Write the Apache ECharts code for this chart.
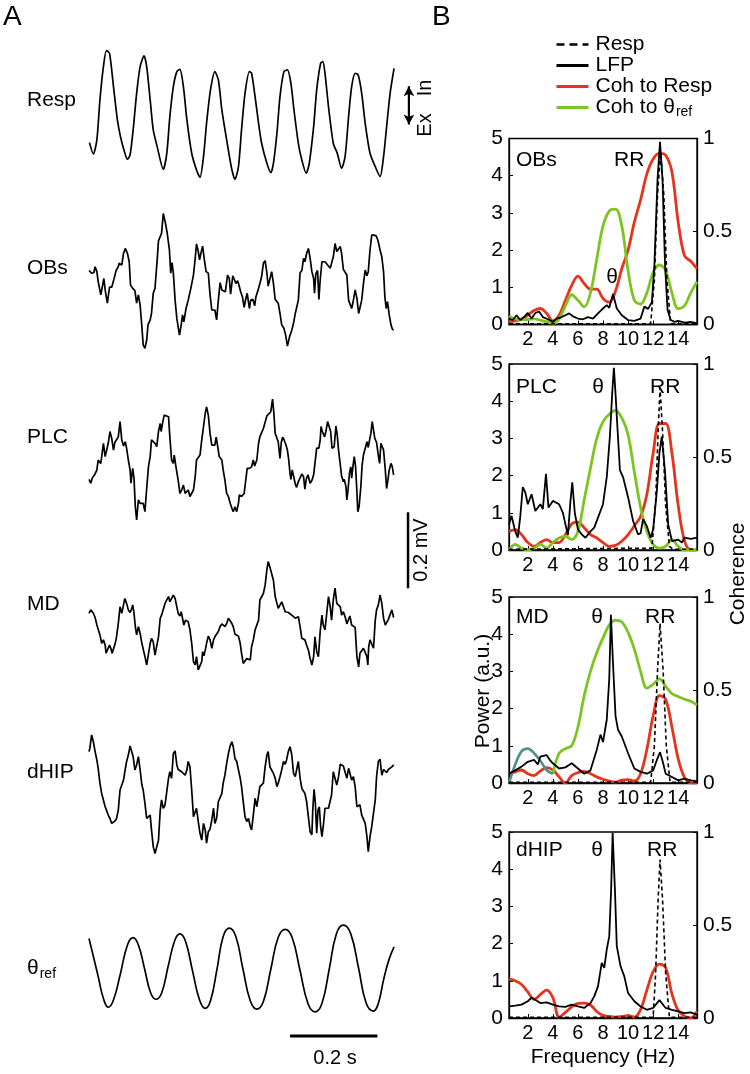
<!DOCTYPE html>
<html><head><meta charset="utf-8">
<script src="https://cdn.jsdelivr.net/npm/echarts@6/dist/echarts.min.js"></script>
<style>html,body{margin:0;padding:0;background:#fff}#c{width:750px;height:1074px}</style>
</head><body><div id="c"></div>
<script>
// ---------- Panel A: traces, [time ms, value] (Resp in a.u., LFP in µV) ----------
const respTrace = [[1,-0.83],[10,-1.17],[18,-0.75],[25,0.45],[33,1.45],[40,1.93],[47,1.85],[56,0.85],[65,-0.15],[72,-0.65],[80,-1.05],[88,-1.33],[94,-1.2],[101,-0.45],[109,0.65],[117,1.45],[126,1.77],[132,1.45],[140,0.45],[147,-0.45],[156,-0.95],[170,-1.63],[178,-1.15],[185,-0.05],[193,0.85],[201,1.3],[208,1.37],[216,0.85],[224,-0.15],[235,-1.15],[246,-1.65],[254,-1.87],[262,-1.25],[269,-0.25],[278,0.75],[288,1.3],[296,1.05],[304,0.15],[315,-0.75],[327,-1.65],[334,-1.93],[342,-1.55],[349,-0.45],[357,0.65],[367,1.3],[372,1.25],[380,0.55],[388,-0.25],[395,-0.85],[407,-1.45],[416,-1.73],[422,-1.45],[430,-0.55],[437,0.55],[446,1.3],[454,1.35],[462,0.95],[469,0.15],[479,-0.85],[487,-1.35],[497,-1.75],[504,-1.45],[514,-0.35],[521,0.75],[530,1.55],[535,1.6],[540,1.25],[548,0.25],[559,-0.85],[568,-1.15],[578,-1.6],[586,-1.25],[594,-0.05],[601,0.85],[609,1.25],[616,1.2],[624,0.65],[632,-0.25],[643,-1.15],[655,-1.55],[666,-1.85],[674,-1.25],[681,-0.35],[689,0.65],[698,1.4]];

const obsTrace = [[0,25],[6,18],[11,19],[14,35],[18,22],[21,-4],[27,-39],[31,-44],[34,4],[37,-26],[42,-61],[47,-19],[52,-19],[57,2],[62,25],[67,35],[69,44],[75,39],[79,70],[83,83],[88,70],[92,48],[95,-13],[100,-22],[105,-28],[109,-61],[113,-39],[117,-66],[121,-123],[124,-171],[128,-180],[132,-158],[135,-118],[140,-105],[143,-88],[147,-35],[151,-22],[156,53],[159,103],[163,107],[166,123],[170,175],[175,149],[179,123],[184,79],[187,18],[190,46],[193,18],[197,-53],[201,-101],[204,-101],[207,-145],[211,-118],[214,-92],[217,-110],[222,-75],[227,-53],[233,-22],[239,13],[243,57],[246,95],[250,75],[253,53],[256,70],[260,89],[264,53],[268,22],[273,18],[277,-39],[281,-79],[285,-75],[288,-79],[292,-105],[296,-53],[300,-7],[304,-26],[307,-28],[312,-31],[317,13],[321,4],[324,-37],[329,11],[333,0],[336,-9],[340,-2],[343,-13],[347,-31],[351,-44],[355,-72],[359,-48],[362,-35],[367,-75],[370,-53],[375,-51],[379,-68],[382,-44],[387,-26],[391,-9],[395,9],[399,44],[403,51],[407,19],[410,-16],[414,-19],[418,22],[422,-9],[426,-51],[430,-51],[433,-61],[437,-88],[441,-118],[446,-127],[450,-145],[454,-174],[459,-149],[464,-132],[468,-114],[472,-88],[475,-92],[479,-53],[483,19],[487,25],[491,57],[494,48],[498,70],[502,83],[506,57],[510,22],[514,4],[516,-35],[519,16],[523,25],[526,-51],[529,0],[533,48],[536,44],[540,48],[544,44],[548,37],[552,31],[555,26],[559,61],[563,96],[567,75],[571,79],[575,88],[578,70],[582,28],[586,26],[590,13],[594,-53],[597,-48],[601,-75],[605,-53],[609,-26],[613,-48],[617,-88],[620,-88],[624,-53],[628,-9],[632,26],[636,11],[639,22],[643,79],[647,118],[652,118],[657,116],[661,105],[666,79],[670,61],[674,22],[677,-44],[680,-75],[683,-57],[687,-92],[691,-118],[694,-129],[697,-132]];

const plcTrace = [[0,-51],[4,-61],[8,-46],[13,-39],[18,-26],[21,0],[27,-9],[30,-4],[33,44],[37,9],[40,4],[44,44],[48,75],[52,57],[56,26],[59,46],[63,44],[67,61],[71,101],[75,53],[79,37],[83,48],[86,31],[90,0],[94,-26],[96,-61],[100,-22],[103,-48],[106,-123],[109,-158],[113,-105],[117,-114],[121,-118],[124,-114],[128,-136],[132,-75],[136,-18],[140,9],[143,53],[147,53],[151,44],[155,35],[159,75],[163,96],[165,75],[169,101],[172,118],[176,114],[182,114],[185,61],[189,0],[193,-9],[195,13],[199,-18],[202,-39],[205,-61],[208,-88],[212,-79],[216,-66],[220,-88],[224,-83],[227,-79],[231,-96],[235,-98],[239,-79],[243,-44],[246,0],[250,4],[254,13],[258,53],[262,88],[266,123],[269,140],[273,118],[277,70],[281,39],[285,35],[288,39],[291,60],[294,39],[298,9],[304,0],[307,-26],[311,-53],[315,-88],[319,-96],[323,-114],[327,-127],[330,-136],[334,-123],[338,-136],[342,-114],[344,-92],[349,-96],[355,-88],[359,-88],[362,-22],[367,-22],[372,-18],[376,0],[379,-16],[384,0],[388,44],[391,61],[395,66],[399,83],[403,88],[407,116],[410,114],[416,127],[420,160],[423,123],[426,70],[430,68],[433,48],[437,4],[440,46],[443,60],[446,54],[451,39],[454,26],[457,0],[460,-35],[462,-51],[465,-26],[469,-25],[472,-63],[475,-72],[479,-57],[483,-54],[487,-37],[491,-44],[494,-77],[497,-51],[501,-39],[506,-61],[510,-54],[514,-39],[517,-35],[521,31],[526,31],[529,53],[531,88],[534,75],[539,61],[542,75],[546,101],[550,96],[553,75],[556,31],[561,35],[565,89],[568,66],[571,26],[575,-13],[578,-42],[582,-57],[584,-51],[588,-70],[590,-105],[593,-75],[596,-35],[599,-18],[601,-48],[604,-16],[607,9],[610,-18],[613,-83],[615,-136],[618,-123],[622,-70],[625,-13],[628,13],[632,18],[636,48],[639,33],[642,53],[645,70],[648,101],[651,79],[654,57],[658,46],[662,13],[665,-9],[668,44],[671,49],[674,26],[678,-26],[681,-75],[684,-53],[687,-26],[691,-9],[694,-18],[697,-39]];

const mdTrace = [[0,9],[4,18],[7,22],[10,9],[14,-2],[18,-22],[21,-26],[25,-48],[29,-70],[33,-61],[37,-75],[39,-96],[43,-96],[47,-75],[50,-83],[53,-96],[56,-98],[60,-70],[63,-53],[67,-18],[71,26],[75,9],[79,31],[82,48],[86,35],[90,18],[94,11],[98,22],[100,31],[103,9],[106,-26],[109,-48],[113,-26],[117,-44],[121,-70],[124,-75],[128,-105],[132,-127],[136,-123],[140,-70],[143,-57],[147,-66],[151,-101],[155,-96],[159,-53],[163,-4],[166,4],[170,9],[174,35],[178,44],[182,53],[185,39],[189,44],[193,57],[197,48],[201,26],[204,9],[208,2],[211,13],[214,-4],[217,-22],[221,-9],[224,-7],[227,-13],[231,-35],[235,-70],[239,-118],[243,-127],[246,-105],[250,-140],[254,-145],[258,-118],[260,-92],[263,-103],[266,-88],[269,-70],[273,-51],[277,-61],[281,-83],[285,-61],[288,-53],[292,-51],[296,-39],[300,-26],[304,-19],[307,-18],[311,-26],[315,-18],[319,-4],[323,-9],[327,-18],[330,-26],[334,-46],[338,-48],[342,-51],[346,-70],[349,-96],[353,-123],[357,-127],[361,-110],[365,-105],[369,-114],[372,-79],[376,-61],[380,-35],[384,-35],[388,-9],[391,44],[395,48],[399,61],[403,83],[407,123],[410,145],[414,130],[418,133],[422,96],[426,53],[430,35],[433,22],[437,18],[441,39],[445,26],[449,13],[452,18],[456,11],[460,13],[464,4],[468,7],[472,-4],[475,-9],[479,0],[483,-26],[487,-57],[491,-61],[494,-61],[498,-75],[502,-88],[506,-110],[510,-127],[514,-105],[517,-53],[521,-92],[525,-105],[529,-39],[533,4],[536,-22],[540,-35],[544,9],[548,53],[552,26],[555,-9],[559,44],[563,75],[567,35],[571,35],[575,26],[578,4],[582,13],[586,0],[590,-19],[594,-16],[597,2],[601,-22],[605,-26],[609,-28],[613,-105],[617,-132],[620,-96],[624,-92],[628,-83],[632,-81],[636,-105],[638,-127],[640,-79],[643,-61],[647,-57],[651,-83],[655,-9],[658,18],[662,31],[666,57],[670,35],[674,-4],[678,-22],[681,-18],[685,-7],[689,-4],[693,18],[697,-2]];

const dhipTrace = [[0,101],[2,110],[6,145],[10,127],[14,101],[18,79],[21,57],[25,18],[29,-9],[33,-13],[37,-44],[40,-53],[44,-66],[48,-75],[52,-88],[56,-88],[60,-81],[63,-75],[67,-53],[71,0],[75,13],[79,26],[82,48],[86,75],[90,92],[94,116],[98,114],[101,88],[105,53],[109,66],[113,88],[117,53],[121,13],[124,0],[128,-35],[132,-75],[136,-79],[140,-66],[143,-105],[147,-149],[151,-167],[155,-165],[159,-132],[163,-53],[166,-26],[170,-48],[174,-39],[178,-35],[182,31],[185,48],[189,31],[193,96],[197,103],[201,66],[204,54],[208,53],[212,48],[216,44],[220,39],[224,53],[227,75],[231,61],[235,0],[239,-70],[243,-75],[246,-48],[250,-83],[254,-114],[258,-132],[262,-88],[266,-105],[269,-140],[273,-110],[277,-103],[281,-79],[285,-48],[288,-88],[292,-75],[296,-31],[300,-26],[304,-9],[307,18],[311,39],[315,70],[319,96],[323,116],[327,127],[330,114],[334,83],[338,75],[342,53],[346,31],[349,9],[353,-31],[357,-70],[361,-83],[365,-75],[369,-96],[372,-105],[376,-66],[380,-22],[384,-44],[388,-48],[391,9],[395,13],[399,18],[403,61],[407,92],[410,101],[414,61],[418,60],[422,44],[426,31],[430,9],[433,18],[437,35],[441,53],[445,75],[449,68],[452,79],[456,101],[460,114],[464,92],[468,44],[472,35],[475,53],[479,75],[483,31],[487,4],[491,0],[494,-9],[498,-31],[502,-35],[506,-110],[510,-118],[512,-53],[515,2],[518,-35],[521,-114],[524,-53],[527,-44],[530,-96],[533,-123],[536,-96],[540,-48],[544,-48],[548,-48],[552,-44],[555,-13],[559,48],[563,44],[567,13],[571,35],[575,68],[578,66],[582,63],[586,61],[590,31],[594,57],[597,44],[601,26],[605,35],[609,9],[613,-44],[617,-48],[620,-39],[624,-66],[628,-68],[632,-88],[636,-123],[639,-162],[643,-123],[647,-96],[651,-95],[655,-26],[658,35],[662,75],[666,81],[670,39],[674,54],[678,53],[681,46],[685,54],[689,57],[693,61],[697,66]];

const thetaTrace = [[0,83],[11,31],[22,-22],[33,-75],[44,-98],[56,-79],[72,-9],[88,66],[101,85],[113,66],[127,4],[141,-60],[153,-77],[166,-61],[181,9],[196,77],[208,95],[221,75],[237,-3],[253,-79],[266,-101],[278,-81],[293,3],[307,88],[321,110],[336,88],[352,4],[369,-81],[384,-103],[399,-83],[416,2],[433,86],[449,107],[465,85],[483,-2],[501,-88],[517,-110],[533,-88],[550,4],[566,95],[582,118],[599,95],[617,4],[634,-86],[651,-108],[662,-88],[674,-26],[686,26],[698,61]];

// scale bars: 0.2 mV (µV range) at 730 ms, 0.2 s (ms range)
const mvBar = [[730,75],[730,275]];
const sBar = [[460,-174],[660,-174]];
const respArrow = [[732,0.86],[732,-0.29]];

// ---------- Panel B: spectra ----------
const freqs = [0.5,1,1.5,2,2.5,3,3.5,4,4.5,5,5.5,6,6.5,7,7.5,8,8.5,9,9.5,10,10.5,11,11.5,12,12.5,13,13.5,14,14.5,15,15.5];
const freqTicks = [2,4,6,8,10,12,14];

const obsCohResp  = [0.015,0.02,0.03,0.05,0.075,0.086,0.06,0.02,0.05,0.13,0.21,0.26,0.22,0.19,0.19,0.14,0.12,0.18,0.3,0.4,0.55,0.67,0.81,0.89,0.92,0.91,0.82,0.55,0.37,0.34,0.3];
const obsCohTheta = [0.045,0.03,0.027,0.027,0.03,0.023,0.015,0.005,0.03,0.1,0.16,0.13,0.095,0.17,0.35,0.53,0.61,0.62,0.53,0.29,0.13,0.11,0.17,0.28,0.32,0.29,0.17,0.085,0.1,0.17,0.23];
const plcCohResp  = [0.1,0.11,0.083,0.04,0.02,0.04,0.056,0.04,0.04,0.083,0.14,0.15,0.12,0.083,0.065,0.04,0.02,0.025,0.047,0.083,0.13,0.18,0.3,0.52,0.68,0.68,0.52,0.24,0.05,0.0,0.0];
const plcCohTheta = [0.0,0.03,0.01,0.0,0.01,0.03,0.01,0.04,0.065,0.074,0.056,0.1,0.27,0.44,0.6,0.69,0.73,0.75,0.71,0.62,0.42,0.23,0.1,0.03,0.01,0.02,0.056,0.02,0.0,0.0,0.0];
const mdCohResp   = [0.05,0.06,0.07,0.05,0.04,0.065,0.083,0.07,0.033,0.0,0.04,0.056,0.063,0.05,0.033,0.02,0.01,0.005,0.015,0.018,0.011,0.05,0.18,0.36,0.47,0.45,0.3,0.13,0.03,0.0,0.0];
const mdCohTheta  = [null,null,null,null,null,null,null,0.05,0.16,0.185,0.2,0.3,0.47,0.6,0.7,0.78,0.85,0.875,0.865,0.81,0.72,0.6,0.51,0.53,0.56,0.52,0.48,0.465,0.45,0.44,0.42];
const mdCohThetaLow = [0.0,0.1,0.17,0.185,0.16,0.12,0.07,0.05,null,null,null,null,null,null,null,null,null,null,null,null,null,null,null,null,null,null,null,null,null,null,null];
const dhipCohResp = [0.21,0.2,0.18,0.14,0.1,0.126,0.15,0.11,0.005,0.03,0.06,0.078,0.08,0.07,0.035,0.014,0.009,0.005,0.009,0.013,0.005,0.045,0.15,0.25,0.29,0.27,0.13,0.04,0.01,0.0,0.036];

// power spectra, [Hz, a.u.]
const obsLFP = [[0.5,0.16],[0.8,0.12],[1.1,0.25],[1.4,0.12],[1.7,0.2],[2.0,0.31],[2.3,0.16],[2.6,0.31],[2.9,0.35],[3.2,0.2],[3.6,0.14],[4.0,0.07],[4.3,0.16],[4.7,0.2],[5.0,0.25],[5.3,0.3],[5.6,0.22],[6.0,0.16],[6.4,0.14],[6.8,0.2],[7.2,0.16],[7.6,0.3],[8.0,0.43],[8.3,0.52],[8.5,0.45],[8.8,0.82],[9.1,0.43],[9.5,0.25],[10.0,0.12],[10.5,0.1],[11.0,0.16],[11.3,0.48],[11.6,0.42],[11.9,0.6],[12.1,1.6],[12.35,3.9],[12.55,4.91],[12.75,3.9],[12.95,1.6],[13.15,0.4],[13.4,0.12],[13.7,0.07],[14.0,0.1],[14.5,0.05],[15.0,0.07],[15.5,0.03]];
const obsResp = [[0.5,0.02],[11.8,0.02],[12.1,1.2],[12.35,3.5],[12.6,4.6],[12.85,3.5],[13.1,1.2],[13.4,0.02],[15.5,0.02]];
const plcLFP = [[0.5,0.69],[0.7,0.92],[1.0,0.5],[1.2,0.33],[1.4,0.9],[1.6,1.69],[1.8,1.55],[2.0,1.23],[2.3,1.5],[2.6,1.05],[3.0,1.23],[3.2,1.1],[3.45,2.05],[3.65,1.14],[4.0,1.32],[4.5,1.23],[4.8,1.0],[5.0,0.69],[5.2,0.4],[5.4,1.3],[5.55,1.82],[5.75,1.0],[6.0,0.55],[6.3,0.42],[6.6,0.33],[7.0,0.5],[7.3,0.6],[7.6,0.87],[8.0,1.23],[8.3,1.96],[8.55,3.05],[8.75,4.3],[8.87,4.9],[9.0,4.2],[9.15,3.3],[9.35,2.15],[9.6,1.96],[10.0,1.42],[10.4,0.78],[10.8,0.42],[11.0,0.45],[11.2,0.83],[11.5,0.64],[11.8,0.33],[12.0,0.55],[12.3,1.6],[12.5,2.6],[12.69,3.05],[12.95,2.1],[13.2,0.69],[13.5,0.24],[14.0,0.28],[14.3,0.2],[14.5,0.33],[15.0,0.3],[15.5,0.33]];
const plcResp = [[0.5,0.02],[11.9,0.05],[12.2,1.3],[12.4,3.2],[12.55,4.36],[12.75,3.2],[13.0,1.2],[13.3,0.1],[13.6,0.02],[15.5,0.02]];
const mdLFP = [[0.5,0.25],[1.0,0.34],[1.5,0.44],[2.0,0.57],[2.5,0.62],[2.8,0.5],[3.0,0.71],[3.5,0.75],[3.8,0.6],[4.0,0.53],[4.5,0.39],[5.0,0.42],[5.5,0.53],[6.0,0.39],[6.5,0.25],[7.0,0.34],[7.5,0.89],[7.8,1.3],[8.0,1.1],[8.3,1.7],[8.5,2.8],[8.63,4.52],[8.8,3.2],[9.0,1.8],[9.2,1.43],[9.5,1.25],[10.0,0.8],[10.5,0.39],[11.0,0.3],[11.5,0.25],[12.0,0.34],[12.3,0.62],[12.55,0.83],[12.8,0.53],[13.0,0.25],[13.5,0.16],[14.0,0.07],[14.5,0.12],[15.0,0.07],[15.5,0.05]];
const mdResp = [[0.5,0.02],[11.8,0.02],[12.1,1.0],[12.35,3.0],[12.55,4.29],[12.8,3.0],[13.05,1.0],[13.35,0.02],[15.5,0.02]];
const dhipLFP = [[0.5,0.31],[1.0,0.33],[1.5,0.36],[2.0,0.45],[2.3,0.55],[2.5,0.51],[3.0,0.4],[3.5,0.42],[4.0,0.36],[4.5,0.31],[5.0,0.3],[5.5,0.36],[6.0,0.31],[6.5,0.27],[7.0,0.4],[7.3,0.58],[7.6,0.85],[7.9,1.48],[8.1,1.35],[8.3,1.84],[8.5,2.2],[8.65,3.46],[8.77,4.98],[8.95,3.46],[9.1,1.93],[9.4,1.39],[9.7,1.12],[10.0,0.67],[10.5,0.45],[11.0,0.31],[11.5,0.22],[12.0,0.27],[12.5,0.48],[13.0,0.27],[13.5,0.22],[14.0,0.18],[14.5,0.13],[15.0,0.15],[15.5,0.09]];
const dhipResp = [[0.5,0.02],[12.0,0.02],[12.2,1.2],[12.4,3.2],[12.55,4.26],[12.75,3.2],[13.0,1.2],[13.3,0.02],[15.5,0.02]];

// ---------- styling / layout ----------
const FONT = '"Liberation Sans", Arial, Helvetica, sans-serif';
const RED = '#E5341C', GREEN = '#7CC520', TEAL = '#4F8E8A';
// [top, height, yMin, yMax] for panel A rows (x: 0–740 ms over 323.4 px)
const aGrids = [[48.3,133.3,-2,2],[204,152,-200,200],[384,152,-200,200],[502.7,190,-200,300],[714,152,-200,200],[894,152,-200,200]];
const bTops = [138.5,364,597,832];

const grid = [], xAxis = [], yAxis = [], series = [];
aGrids.forEach((g,i)=>{
  grid.push({left:89, top:g[0], width:323.4, height:g[1]});
  xAxis.push({gridIndex:i, type:'value', min:0, max:740, show:false});
  yAxis.push({gridIndex:i, type:'value', min:g[2], max:g[3], show:false});
});
bTops.forEach((t,j)=>{
  const gi = 6+j;
  grid.push({left:509, top:t, width:188, height:186, show:true, borderColor:'#000', borderWidth:1.3, backgroundColor:'transparent'});
  xAxis.push({gridIndex:gi, type:'value', min:0.5, max:15.5,
    axisLine:{show:true, lineStyle:{color:'#000', width:1.3}},
    axisTick:{show:true, inside:true, length:4, customValues:freqTicks, lineStyle:{color:'#000'}},
    axisLabel:{show:true, customValues:freqTicks, color:'#000', fontSize:20, fontFamily:FONT, margin:5},
    splitLine:{show:false}});
});
const axL = (gi)=>({gridIndex:gi, type:'value', min:0, max:5, interval:1, position:'left',
    axisLine:{show:true, lineStyle:{color:'#000', width:1.3}},
    axisTick:{show:true, inside:true, length:4, lineStyle:{color:'#000'}},
    axisLabel:{color:'#000', fontSize:21, fontFamily:FONT, margin:6}, splitLine:{show:false}});
const axR = (gi)=>({gridIndex:gi, type:'value', min:0, max:1, interval:0.5, position:'right',
    axisLine:{show:true, lineStyle:{color:'#000', width:1.3}},
    axisTick:{show:true, inside:true, length:4, lineStyle:{color:'#000'}},
    axisLabel:{color:'#000', fontSize:21, fontFamily:FONT, margin:6}, splitLine:{show:false}});
bTops.forEach((t,j)=>yAxis.push(axL(6+j)));
bTops.forEach((t,j)=>yAxis.push(axR(6+j)));

// Panel A series
const traces = [respTrace, obsTrace, plcTrace, mdTrace, dhipTrace, thetaTrace];
traces.forEach((d,i)=>{
  series.push({type:'line', name:'trace'+i, xAxisIndex:i, yAxisIndex:i, data:d, symbol:'none',
    smooth: i===0 ? 0.25 : (i===5 ? 0.45 : false), silent:true,
    lineStyle:{color:'#000', width:1.7}});
});
series.push({type:'line', name:'barV', xAxisIndex:3, yAxisIndex:3, data:mvBar, symbol:'none', silent:true, lineStyle:{color:'#000', width:2.5}});
series.push({type:'line', name:'barT', xAxisIndex:5, yAxisIndex:5, data:sBar, symbol:'none', silent:true, lineStyle:{color:'#000', width:3}});
series.push({type:'line', name:'arrow', xAxisIndex:0, yAxisIndex:0, silent:true,
  data:[{value:respArrow[0], symbol:'arrow', symbolRotate:0},{value:respArrow[1], symbol:'arrow', symbolRotate:180}],
  symbolSize:[8,10], showSymbol:true, itemStyle:{color:'#000'}, lineStyle:{color:'#000', width:2.2}});

// Panel B series
const cohResp = [obsCohResp, plcCohResp, mdCohResp, dhipCohResp];
const cohTheta = [obsCohTheta, plcCohTheta, mdCohTheta, null];
const lfp = [obsLFP, plcLFP, mdLFP, dhipLFP];
const resp = [obsResp, plcResp, mdResp, dhipResp];
const pairs = (arr)=>freqs.map((f,i)=>[f, arr[i]]);
for (let j=0;j<4;j++){
  const gi = 6+j;
  series.push({type:'line', name:'Coh to Resp', xAxisIndex:gi, yAxisIndex:10+j, data:pairs(cohResp[j]), symbol:'none', smooth:0.35, z:2, silent:true, lineStyle:{color:RED, width:2.8}, itemStyle:{color:RED}});
  if (cohTheta[j]) series.push({type:'line', name:'Coh to θref', xAxisIndex:gi, yAxisIndex:10+j, data:pairs(cohTheta[j]), symbol:'none', smooth:0.35, z:2, silent:true, lineStyle:{color:GREEN, width:2.8}, itemStyle:{color:GREEN}});
  if (j===2) series.push({type:'line', name:'Coh to θref low', xAxisIndex:gi, yAxisIndex:10+j, data:pairs(mdCohThetaLow), symbol:'none', smooth:0.35, z:2, silent:true, lineStyle:{color:TEAL, width:2.6}});
  series.push({type:'line', name:'LFP', xAxisIndex:gi, yAxisIndex:gi, data:lfp[j], symbol:'none', z:3, silent:true, lineStyle:{color:'#000', width:1.8}, itemStyle:{color:'#000'}});
  series.push({type:'line', name:'Resp', xAxisIndex:gi, yAxisIndex:gi, data:resp[j], symbol:'none', z:3, silent:true, lineStyle:{color:'#000', width:1.6, type:[4,3]}, itemStyle:{color:'#000'}});
}

// ---------- text ----------
const txt = (text,x,y,opt={})=>({type:'text', x, y, rotation:opt.rot||0, silent:true,
  style:Object.assign({text, font:(opt.size||21)+'px '+FONT, fill:'#000', align:opt.align||'left', verticalAlign:'middle'}, opt.style||{})});
const graphic = [
  txt('A',3,17,{size:28}), txt('B',432,17,{size:28}),
  txt('Resp',27,100), txt('OBs',27,268), txt('PLC',27,437), txt('MD',27,604), txt('dHIP',27,772),
  {type:'text', x:27, y:968, silent:true, style:{text:'{a|θ}{b|ref}', font:'21px '+FONT, fill:'#000', verticalAlign:'middle',
     rich:{a:{fontSize:21, fontFamily:FONT, fill:'#000'}, b:{fontSize:14, fontFamily:FONT, fill:'#000', padding:[12,0,0,1]}}}},
  txt('In',425,88,{rot:Math.PI/2, align:'center', size:20}),
  txt('Ex',425,125,{rot:Math.PI/2, align:'center', size:20}),
  txt('0.2 mV',421,550,{rot:Math.PI/2, align:'center', size:20}),
  txt('0.2 s',335,1058,{align:'center', size:20}),
  txt('OBs',516,160), txt('RR',614,160), txt('θ',612,277,{align:'center'}),
  txt('PLC',516,387), txt('θ',598,387,{align:'center'}), txt('RR',650,387),
  txt('MD',516,617), txt('θ',597,617,{align:'center'}), txt('RR',645,617),
  txt('dHIP',516,850), txt('θ',597,850,{align:'center'}), txt('RR',647,850),
  txt('Power (a.u.)',483,691,{rot:Math.PI/2, align:'center'}),
  txt('Coherence',738,574,{rot:Math.PI/2, align:'center'}),
  txt('Frequency (Hz)',603,1057,{align:'center'})
];

const option = {
  animation:false, backgroundColor:'#fff',
  grid, xAxis, yAxis, series, graphic,
  legend:{orient:'vertical', left:550, top:29, itemWidth:32, itemHeight:21, itemGap:0, selectedMode:false,
    itemStyle:{opacity:0},
    textStyle:{fontSize:21, fontFamily:FONT, color:'#000', padding:[0,0,0,2],
      rich:{a:{fontSize:21, fontFamily:FONT, color:'#000'}, s:{fontSize:14, fontFamily:FONT, color:'#000', padding:[10,0,0,1]}}},
    formatter:(n)=> n==='Coh to θref' ? '{a|Coh to θ}{s|ref}' : n,
    data:[
      {name:'Resp', itemStyle:{opacity:0}, lineStyle:{width:2.6, type:[8,5], color:'#000'}},
      {name:'LFP', itemStyle:{opacity:0}, lineStyle:{width:3, color:'#000'}},
      {name:'Coh to Resp', itemStyle:{opacity:0}, lineStyle:{width:3, color:RED}},
      {name:'Coh to θref', itemStyle:{opacity:0}, lineStyle:{width:3, color:GREEN}}
    ]}
};
const chart = echarts.init(document.getElementById('c'));
chart.setOption(option);
</script></body></html>
